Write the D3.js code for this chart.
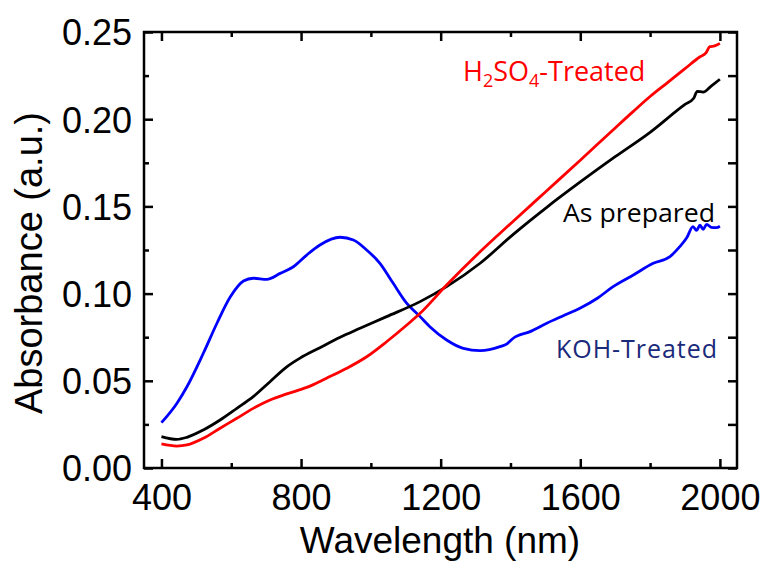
<!DOCTYPE html>
<html><head><meta charset="utf-8">
<script src="https://cdn.jsdelivr.net/npm/d3@7"></script>
<style>
html,body{margin:0;padding:0;background:#fff;}
svg{display:block;}
</style></head>
<body>
<svg id="chart" width="763" height="562"></svg>
<script>
// ---- data ----
const xMajorTicks = [400, 800, 1200, 1600, 2000];
const xMinorTicks = [600, 1000, 1400, 1800];
const yMajorTicks = [0.00, 0.05, 0.10, 0.15, 0.20, 0.25];
const yMinorTicks = [0.025, 0.075, 0.125, 0.175, 0.225];

const kohWl  = [400, 444, 473, 520, 559, 597, 635, 663, 702, 740, 778, 816, 854, 912, 950, 988, 1026, 1064, 1103, 1141, 1169, 1217, 1265, 1313, 1370, 1390, 1408, 1456, 1504, 1550, 1599, 1650, 1694, 1752, 1809, 1857, 1885, 1905, 1923, 1933, 1943, 1952, 1962, 1975, 1990, 2000];
const kohAbs = [0.026, 0.037, 0.0466, 0.0658, 0.083, 0.098, 0.1072, 0.1088, 0.1082, 0.1116, 0.1154, 0.1221, 0.1279, 0.1323, 0.1307, 0.125, 0.1174, 0.1059, 0.0944, 0.0868, 0.081, 0.0734, 0.0686, 0.0673, 0.0696, 0.0712, 0.0744, 0.0782, 0.083, 0.0872, 0.0916, 0.0975, 0.104, 0.1107, 0.1174, 0.1212, 0.1269, 0.1320, 0.1384, 0.1362, 0.1392, 0.1369, 0.1397, 0.1380, 0.1378, 0.1386];

const asWl  = [400, 444, 473, 520, 568, 616, 663, 711, 759, 797, 854, 912, 969, 1045, 1141, 1217, 1313, 1408, 1504, 1600, 1700, 1800, 1900, 1925, 1935, 1952, 1975, 2000];
const asAbs = [0.018, 0.0164, 0.0176, 0.0218, 0.0275, 0.0342, 0.0409, 0.0495, 0.0580, 0.0630, 0.0690, 0.0750, 0.0801, 0.0868, 0.0954, 0.1040, 0.1174, 0.1340, 0.1495, 0.1640, 0.1785, 0.1925, 0.2085, 0.2120, 0.2160, 0.2155, 0.2190, 0.2229];

const h2Wl  = [400, 444, 473, 520, 568, 616, 663, 711, 759, 816, 873, 931, 988, 1045, 1103, 1141, 1217, 1313, 1408, 1504, 1600, 1700, 1752, 1800, 1850, 1900, 1943, 1960, 1971, 1985, 2000];
const h2Abs = [0.0138, 0.0126, 0.0132, 0.017, 0.0228, 0.0285, 0.0342, 0.039, 0.0425, 0.0462, 0.0515, 0.0572, 0.0638, 0.0724, 0.082, 0.0887, 0.1049, 0.1240, 0.1415, 0.1590, 0.1765, 0.1950, 0.2045, 0.2130, 0.2210, 0.2290, 0.2358, 0.2380, 0.2416, 0.2420, 0.2435];

const seriesNames = ["KOH-Treated", "As prepared", "H2SO4-Treated"];
const seriesColors = ["#0000ff", "#000000", "#ff0000"];

// ---- chart ----
const svg = d3.select("#chart");
const L = 144, R = 737, T = 32, B = 468;
const x = d3.scaleLinear().domain([350, 2049]).range([L, R]);
const y = d3.scaleLinear().domain([0, 0.25]).range([B, T]);

const series = [
  {name: seriesNames[0], color: seriesColors[0], pts: kohWl.map((w,i)=>[w,kohAbs[i]])},
  {name: seriesNames[1], color: seriesColors[1], pts: asWl.map((w,i)=>[w,asAbs[i]])},
  {name: seriesNames[2], color: seriesColors[2], pts: h2Wl.map((w,i)=>[w,h2Abs[i]])}
];

const line = d3.line().x(d=>x(d[0])).y(d=>y(d[1])).curve(d3.curveMonotoneX);
svg.append("g").selectAll("path").data(series).join("path")
  .attr("d", d=>line(d.pts)).attr("fill","none")
  .attr("stroke", d=>d.color).attr("stroke-width", 2.8)
  .attr("stroke-linejoin","round");

// axes
const tickFont = "'Liberation Sans', Arial, sans-serif";
function styleAxis(g){
  g.select(".domain").remove();
  g.selectAll("line").attr("stroke","#000").attr("stroke-width",2.5);
}
// bottom
const gb = svg.append("g").attr("transform",`translate(0,${B})`);
gb.call(d3.axisBottom(x).tickValues(xMajorTicks).tickSizeInner(-9).tickSizeOuter(0).tickPadding(0).tickFormat(d3.format("d")))
  .call(styleAxis);
gb.selectAll("text").attr("font-family",tickFont).attr("font-size",36).attr("fill","#000").attr("y",42).attr("dy",0);
svg.append("g").attr("transform",`translate(0,${B})`)
  .call(d3.axisBottom(x).tickValues(xMinorTicks).tickSizeInner(-5).tickSizeOuter(0).tickFormat(""))
  .call(styleAxis);
// top
svg.append("g").attr("transform",`translate(0,${T})`)
  .call(d3.axisTop(x).tickValues(xMajorTicks).tickSizeInner(-9).tickSizeOuter(0).tickFormat(""))
  .call(styleAxis);
svg.append("g").attr("transform",`translate(0,${T})`)
  .call(d3.axisTop(x).tickValues(xMinorTicks).tickSizeInner(-5).tickSizeOuter(0).tickFormat(""))
  .call(styleAxis);
// left
const gl = svg.append("g").attr("transform",`translate(${L},0)`);
gl.call(d3.axisLeft(y).tickValues(yMajorTicks).tickSizeInner(-9).tickSizeOuter(0).tickPadding(12).tickFormat(d3.format(".2f")))
  .call(styleAxis);
gl.selectAll("text").attr("font-family",tickFont).attr("font-size",36).attr("fill","#000").attr("x",-12).attr("dy","0.36em");
svg.append("g").attr("transform",`translate(${L},0)`)
  .call(d3.axisLeft(y).tickValues(yMinorTicks).tickSizeInner(-5).tickSizeOuter(0).tickFormat(""))
  .call(styleAxis);
// right
svg.append("g").attr("transform",`translate(${R},0)`)
  .call(d3.axisRight(y).tickValues(yMajorTicks.concat(yMinorTicks)).tickSizeInner(-9).tickSizeOuter(0).tickFormat(""))
  .call(styleAxis);

// frame
svg.append("rect").attr("x",L).attr("y",T).attr("width",R-L).attr("height",B-T)
  .attr("fill","none").attr("stroke","#000").attr("stroke-width",2.5);

// axis titles
svg.append("text").attr("x",440).attr("y",553).attr("text-anchor","middle")
  .attr("font-family",tickFont).attr("font-size",37).attr("fill","#000").text("Wavelength (nm)");
svg.append("text").attr("transform","translate(42,263) rotate(-90)").attr("text-anchor","middle")
  .attr("font-family",tickFont).attr("font-size",38).attr("fill","#000").text("Absorbance (a.u.)");

// series labels
const labFont = "'Open Sans', 'Noto Sans', sans-serif";
const t1 = svg.append("text").attr("x",463).attr("y",81).attr("font-family",labFont).attr("font-size",27).attr("fill","#ff0000");
t1.append("tspan").text("H");
t1.append("tspan").attr("font-size",18).attr("dy",6).text("2");
t1.append("tspan").attr("dy",-6).text("SO");
t1.append("tspan").attr("font-size",18).attr("dy",6).text("4");
t1.append("tspan").attr("dy",-6).text("-Treated");

svg.append("text").attr("x",563).attr("y",222).attr("font-family",labFont).attr("font-size",25)
  .attr("fill","#000").attr("textLength",152).attr("lengthAdjust","spacingAndGlyphs").text("As prepared");
svg.append("text").attr("x",556).attr("y",358).attr("font-family",labFont).attr("font-size",25)
  .attr("fill","#1a2a7a").attr("textLength",161).attr("lengthAdjust","spacing").text("KOH-Treated");
</script>
</body></html>
